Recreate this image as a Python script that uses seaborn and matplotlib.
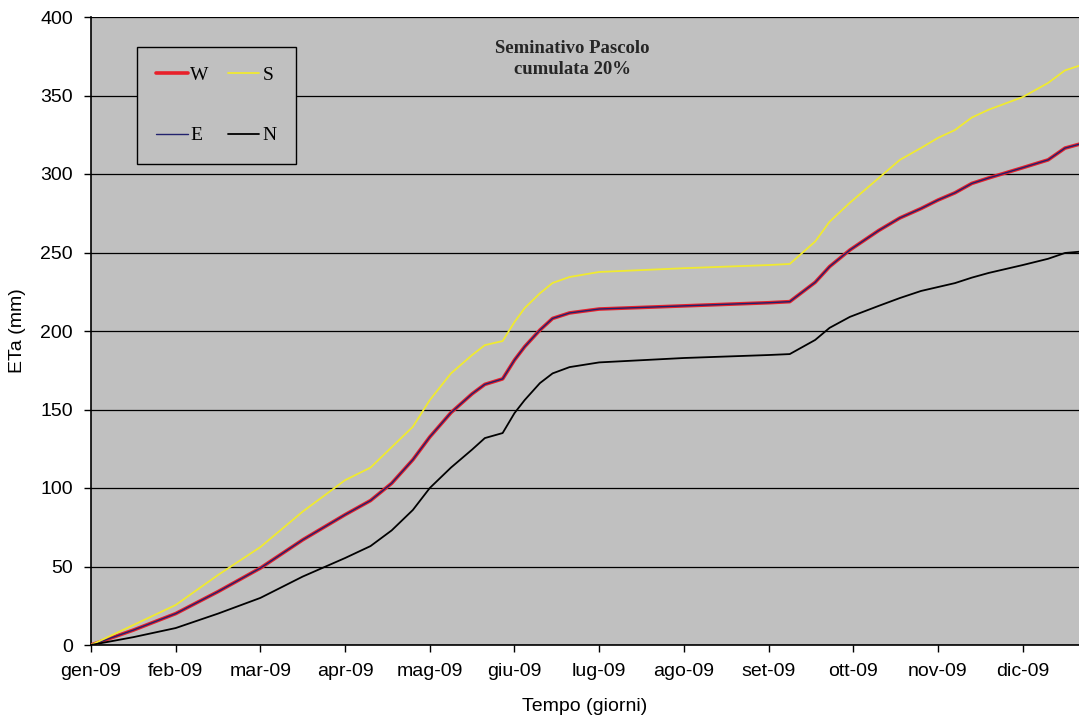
import matplotlib
matplotlib.use("Agg")
import matplotlib.pyplot as plt
import seaborn as sns
import pandas as pd

# Posizione sull'asse: mesi trascorsi dal 1 gennaio 2009
mesi = [0, 0.5, 1, 1.5, 2, 2.5, 3, 3.3, 3.55, 3.8, 4, 4.25, 4.5, 4.65, 4.86,
        5, 5.12, 5.3, 5.45, 5.65, 6, 7, 8, 8.25, 8.55, 8.72, 8.96, 9.3, 9.55,
        9.8, 10, 10.2, 10.4, 10.6, 11, 11.3, 11.5, 11.67]

# ETa cumulata (mm) per esposizione
W = [0, 9.5, 20, 34, 49, 67, 83, 92, 103, 118, 132.5, 148, 160, 166, 169.5,
     181.5, 190, 200.6, 208, 211.5, 214, 216, 218, 218.7, 231, 241, 251.6,
     264, 272, 278, 283.4, 288, 294, 297.5, 304, 309, 316.5, 319]
E = [0, 9.5, 20, 34, 49, 67, 83, 92, 103, 118, 132.5, 148, 160, 166, 169.5,
     181.5, 190, 200.6, 208, 211.5, 214, 216, 218, 218.7, 231, 241, 251.6,
     264, 272, 278, 283.4, 288, 294, 297.5, 304, 309, 316.5, 319]
S = [0, 12.7, 25.5, 44.6, 62.4, 85, 105, 113, 126, 139, 156, 173, 184.7, 191,
     193.6, 205.7, 214.6, 224, 230.6, 234.4, 237.6, 240, 242, 242.7, 257,
     269.6, 281.7, 297.4, 309, 316.6, 323, 328, 336, 341, 349, 358, 366, 369]
N = [0, 5, 10.8, 20, 30, 43.6, 55.4, 63, 73, 86, 100, 113, 124.5, 131.8, 135,
     147.7, 156, 166.8, 173, 177, 180, 182.8, 184.7, 185.3, 194.3, 202, 209,
     216, 221, 225.5, 228, 230.5, 234, 237, 242, 246, 249.7, 250.5]

etichette_mesi = ["gen-09", "feb-09", "mar-09", "apr-09", "mag-09", "giu-09",
                  "lug-09", "ago-09", "set-09", "ott-09", "nov-09", "dic-09"]
serie = ["W", "E", "S", "N"]
valori = {"W": W, "E": E, "S": S, "N": N}

df = pd.concat(
    [pd.DataFrame({"mese": mesi, "ETa": valori[k], "serie": k}) for k in serie],
    ignore_index=True,
)

sns.set_style("ticks", {"axes.facecolor": "#C0C0C0"})
plt.rcParams["font.family"] = ["Liberation Sans", "DejaVu Sans"]

fig = plt.figure(figsize=(10.79, 7.22), dpi=100)
ax = fig.add_axes([91 / 1079, 1 - 645 / 722, 988 / 1079, 628 / 722])

colori = {"W": "#E8202A", "E": "#22226E", "S": "#F0EA30", "N": "#000000"}
spessori = {"W": 2.6, "E": 1.0, "S": 1.3, "N": 1.3}

for k in serie:
    sns.lineplot(data=df[df["serie"] == k], x="mese", y="ETa", color=colori[k],
                 linewidth=spessori[k], label=k, ax=ax, sort=False,
                 estimator=None, zorder=3)

ax.set_xlim(0, 11.665)
ax.set_ylim(0, 400)
ax.set_yticks(range(0, 401, 50))
ax.set_xticks(range(12))
ax.set_xticklabels(etichette_mesi)
ax.tick_params(axis="both", labelsize=14, length=5, width=1, direction="out",
               pad=8, colors="black")
ax.yaxis.grid(True, color="black", linewidth=0.9)
ax.set_axisbelow(True)
for s in ["top", "right"]:
    ax.spines[s].set_visible(False)
for s in ["left", "bottom"]:
    ax.spines[s].set_color("black")
    ax.spines[s].set_linewidth(1.2)

ax.set_xlabel("Tempo (giorni)", fontsize=14, labelpad=13, color="black")
ax.set_ylabel("ETa (mm)", fontsize=14, labelpad=10, color="black")

leg = ax.legend(loc="upper left", bbox_to_anchor=((137 - 91) / 988, (645 - 47) / 628),
                borderaxespad=0, ncol=2, frameon=True, fancybox=False,
                prop={"family": "Liberation Serif", "size": 14},
                handlelength=1.6, handletextpad=0.15, columnspacing=1.0,
                labelspacing=2.2, borderpad=1.0)
leg.get_frame().set_facecolor("#C0C0C0")
leg.get_frame().set_edgecolor("black")
leg.get_frame().set_linewidth(1.0)
leg.get_frame().set_alpha(1)
for t in leg.get_texts():
    t.set_color("black")

ax.text((572 - 91) / 988, (645 - 40) / 628, "Seminativo Pascolo\ncumulata 20%",
        transform=ax.transAxes, ha="center", va="top", fontsize=13.5,
        fontweight="bold", family="Liberation Serif", linespacing=1.3)

fig.savefig("out.png", dpi=100, facecolor="white")
